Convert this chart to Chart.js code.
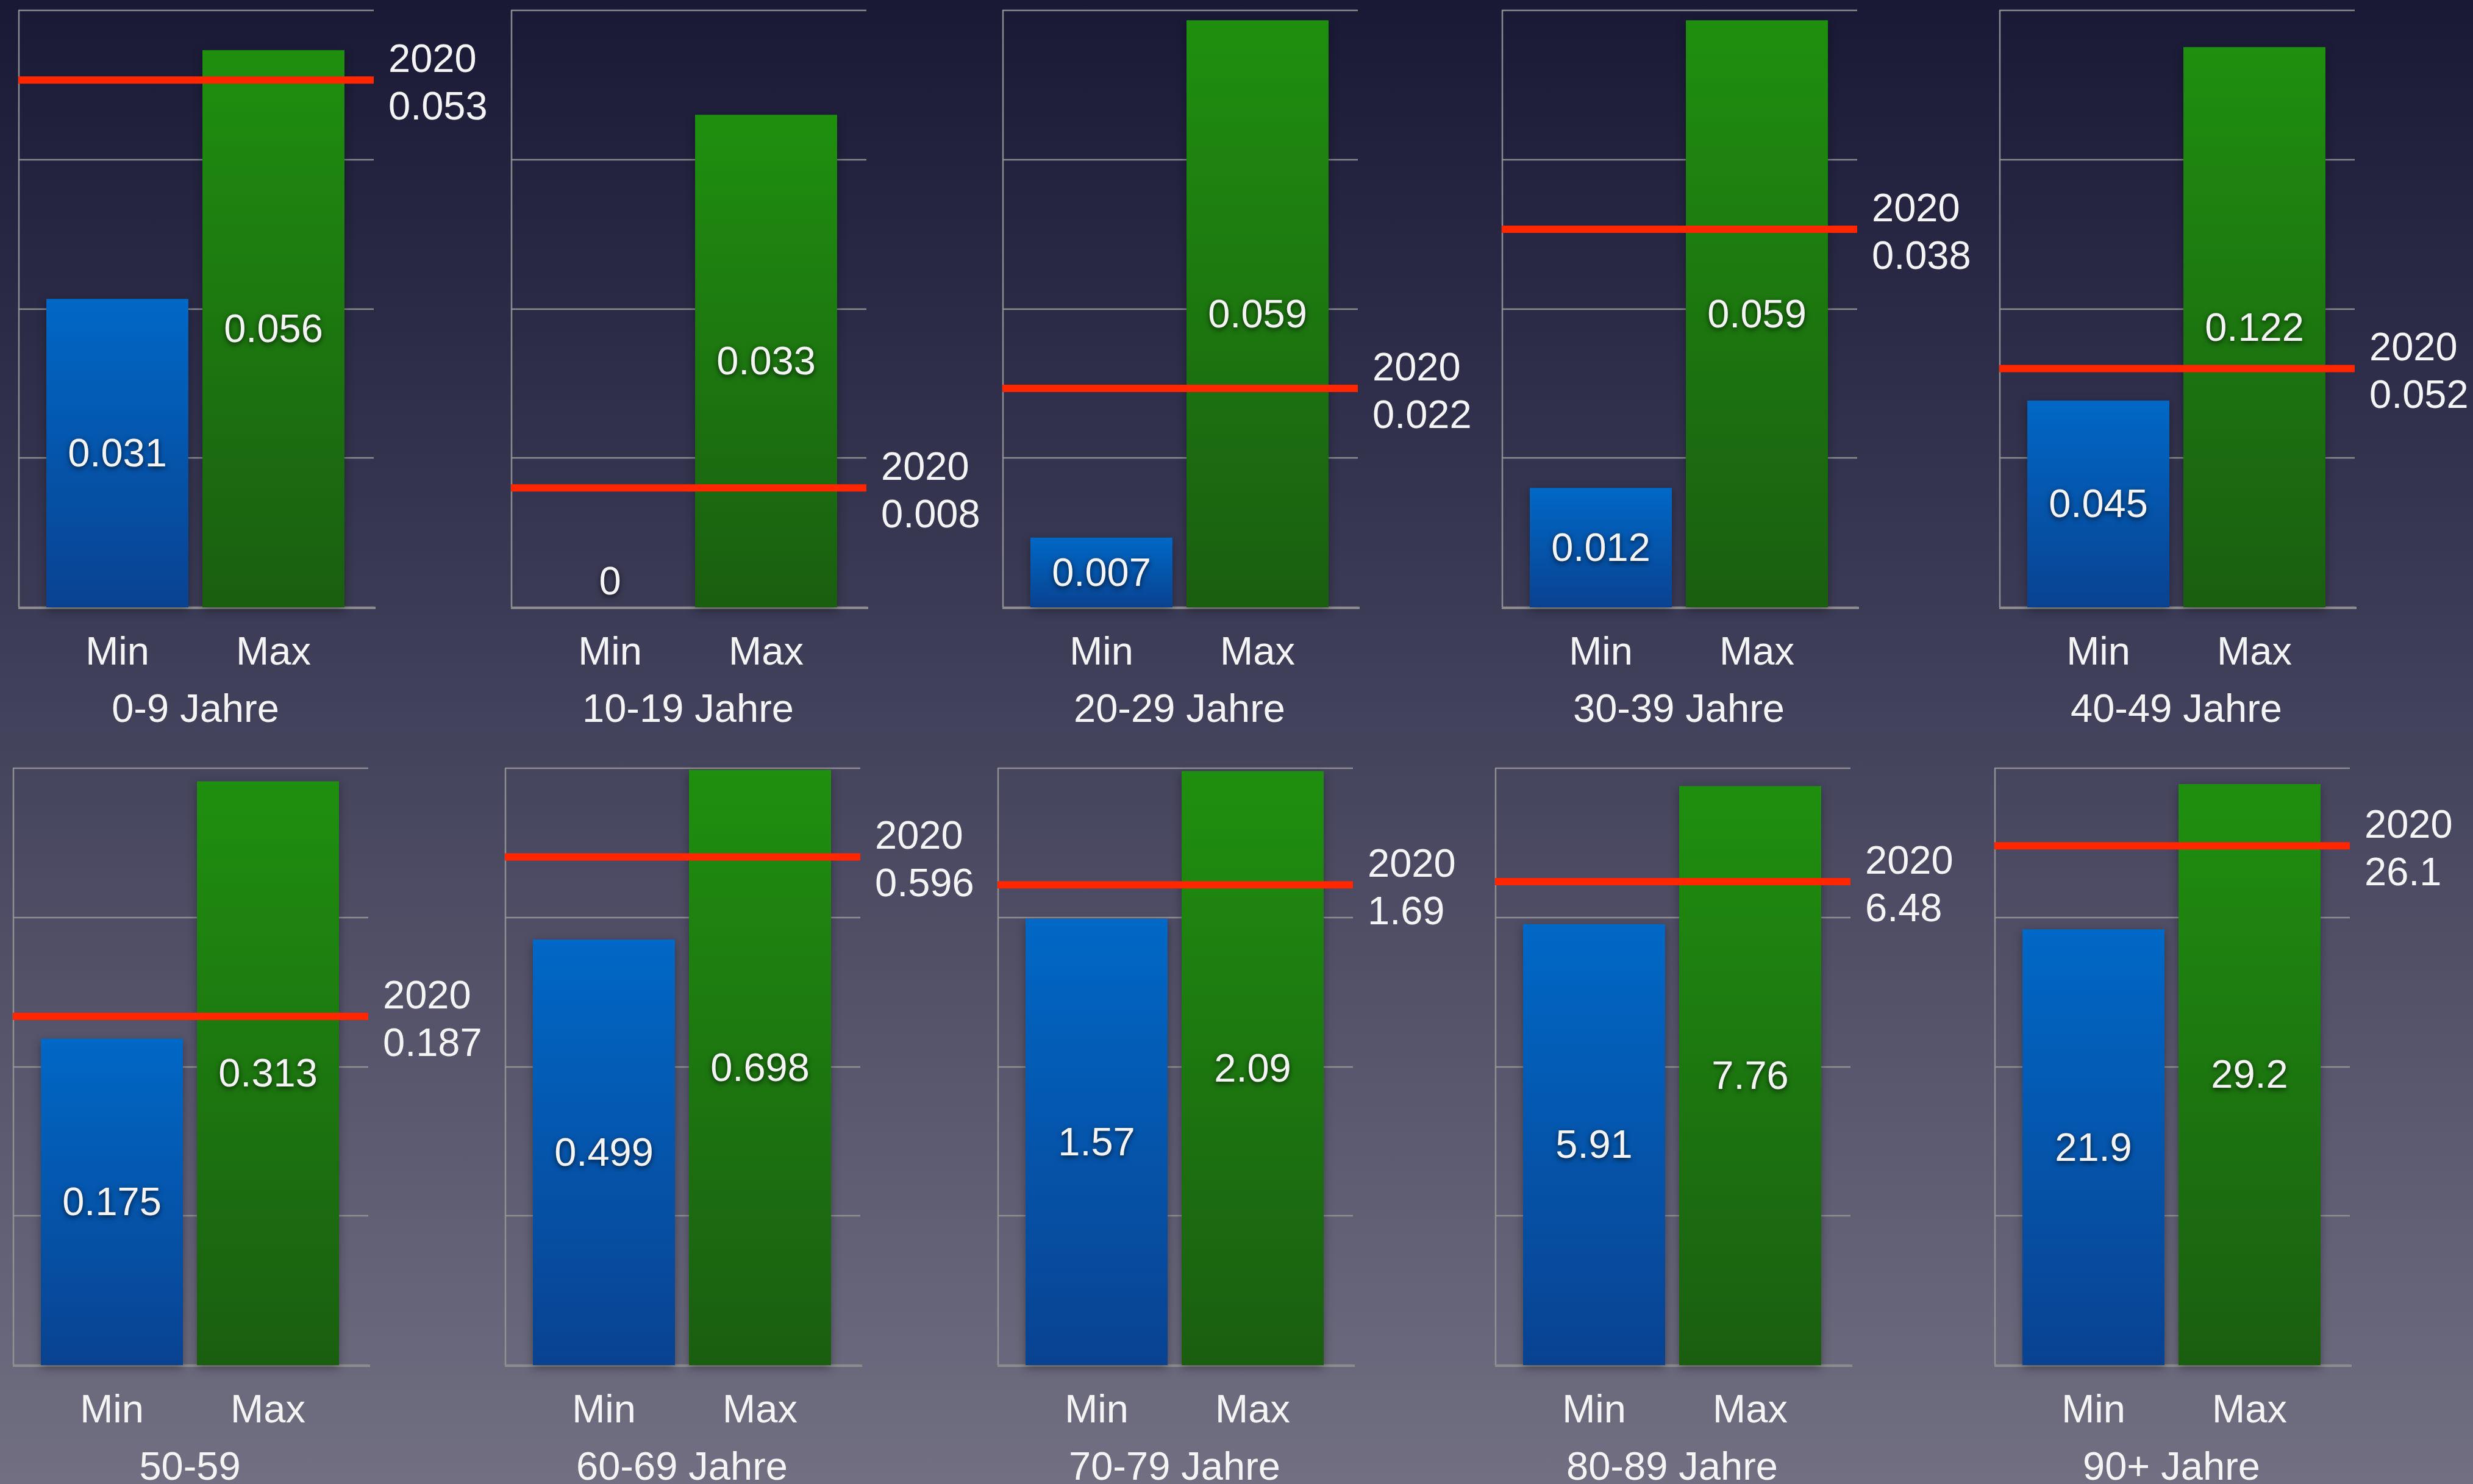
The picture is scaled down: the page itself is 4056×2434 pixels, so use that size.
<!DOCTYPE html>
<html>
<head>
<meta charset="utf-8">
<script src="https://cdn.jsdelivr.net/npm/chart.js@4/dist/chart.umd.min.js"></script>
<style>
  html, body { margin: 0; padding: 0; }
  body {
    width: 4056px; height: 2434px; overflow: hidden; position: relative;
    background: linear-gradient(to bottom, #191936 0%, #3c3b56 41%, #716f81 100%);
  }
  canvas { position: absolute; }
</style>
</head>
<body>
<script>
// Data
const groups = ['0-9 Jahre', '10-19 Jahre', '20-29 Jahre', '30-39 Jahre', '40-49 Jahre',
                '50-59', '60-69 Jahre', '70-79 Jahre', '80-89 Jahre', '90+ Jahre'];
const barLabels = ['Min', 'Max'];
const minValues = [0.031, 0, 0.007, 0.012, 0.045, 0.175, 0.499, 1.57, 5.91, 21.9];
const maxValues = [0.056, 0.033, 0.059, 0.059, 0.122, 0.313, 0.698, 2.09, 7.76, 29.2];
const refLabel = '2020';
const refValues = [0.053, 0.008, 0.022, 0.038, 0.052, 0.187, 0.596, 1.69, 6.48, 26.1];
const axisMax = [0.06, 0.04, 0.06, 0.06, 0.13, 0.32, 0.7, 2.1, 8, 30];

// layout of the panels (left edge of each y axis line)
const panelLeft = [30, 838, 1644, 2463, 3279, 21, 828, 1636, 2452, 3271];
const rowTop = [0, 1243];
const W = 820, H = 1240;
const FONT = "'Liberation Sans', Helvetica, Arial, sans-serif";
const TXT = '#f4f4f4';

const frameLeftOff = 34.5;   // axis line left of the chart area
const frameRightOff = 36.5;  // grid lines past the chart area

function barGradient(c, top, bottom) {
  const chart = c.chart;
  if (!chart.chartArea || c.type !== 'data') return c.dataIndex === 1 ? '#1d7a0f' : '#0658ad';
  const y = chart.scales.y;
  const y0 = y.getPixelForValue(c.raw);
  const y1 = y.getPixelForValue(0);
  if (y1 - y0 < 1) return bottom;
  const g = chart.ctx.createLinearGradient(0, y0, 0, y1);
  g.addColorStop(0, top);
  g.addColorStop(1, bottom);
  return g;
}

const panelPlugin = {
  id: 'panel',
  beforeDatasetsDraw(chart) {
    const ctx = chart.ctx;
    const ca = chart.chartArea;
    const y = chart.scales.y;
    const l = ca.left - frameLeftOff, r = ca.right + frameRightOff;
    ctx.save();
    ctx.strokeStyle = 'rgba(150,150,150,0.9)';
    ctx.lineWidth = 2.5;
    y.ticks.forEach(t => {
      const py = Math.round(y.getPixelForValue(t.value));
      ctx.beginPath();
      ctx.moveTo(l, py);
      ctx.lineTo(r, py);
      ctx.stroke();
    });
    ctx.beginPath();
    ctx.moveTo(l + 1, y.getPixelForValue(y.max));
    ctx.lineTo(l + 1, y.getPixelForValue(0));
    ctx.stroke();
    ctx.strokeStyle = 'rgba(140,140,140,1)';
    ctx.lineWidth = 4;
    ctx.beginPath();
    ctx.moveTo(l, y.getPixelForValue(0) + 1);
    ctx.lineTo(r + 3, y.getPixelForValue(0) + 1);
    ctx.stroke();
    ctx.restore();
    ctx.save();
    ctx.shadowColor = 'rgba(0,0,0,0.35)';
    ctx.shadowBlur = 14;
    ctx.shadowOffsetY = 5;
  },
  afterDatasetsDraw(chart, args, opts) {
    const ctx = chart.ctx;
    ctx.restore();
    const ca = chart.chartArea;
    const y = chart.scales.y;
    const l = ca.left - frameLeftOff, r = ca.right + frameRightOff;
    const ry = y.getPixelForValue(opts.ref);

    ctx.save();
    ctx.strokeStyle = '#ff2600';
    ctx.lineWidth = 12;
    ctx.beginPath();
    ctx.moveTo(l, ry);
    ctx.lineTo(r, ry);
    ctx.stroke();

    ctx.fillStyle = TXT;
    ctx.font = '65px ' + FONT;
    ctx.textAlign = 'left';
    ctx.textBaseline = 'alphabetic';
    ctx.fillText(refLabel, r + 24, ry - 13);
    ctx.fillText(String(opts.ref), r + 24, ry + 65);

    // value labels inside the bars
    ctx.shadowColor = 'rgba(0,0,0,0.7)';
    ctx.shadowBlur = 8;
    ctx.shadowOffsetY = 3;
    ctx.textAlign = 'center';
    const meta = chart.getDatasetMeta(0);
    meta.data.forEach((bar, i) => {
      const v = chart.data.datasets[0].data[i];
      const h = bar.base - bar.y;
      if (h < 60) {
        ctx.textBaseline = 'alphabetic';
        ctx.fillText(String(v), bar.x, bar.y - 21);
      } else {
        ctx.textBaseline = 'middle';
        ctx.fillText(String(v), bar.x, (bar.y + bar.base) / 2 + 4);
      }
    });
    ctx.restore();
  }
};

groups.forEach((g, i) => {
  const cv = document.createElement('canvas');
  cv.width = W;
  cv.height = H;
  cv.style.left = (panelLeft[i] - 10) + 'px';
  cv.style.top = rowTop[i < 5 ? 0 : 1] + 'px';
  document.body.appendChild(cv);

  new Chart(cv, {
    type: 'bar',
    data: {
      labels: barLabels,
      datasets: [{
        data: [minValues[i], maxValues[i]],
        backgroundColor: c => c.dataIndex === 1
          ? barGradient(c, '#1f8f0f', '#1a5e10')
          : barGradient(c, '#0068c6', '#094291'),
        borderWidth: 0,
        barPercentage: 0.91,
        categoryPercentage: 1,
        clip: false
      }]
    },
    options: {
      responsive: false,
      animation: false,
      devicePixelRatio: 1,
      layout: { padding: { left: 10 + frameLeftOff, right: W - 10 - 546.5, top: 17, bottom: 35 } },
      plugins: {
        legend: { display: false },
        tooltip: { enabled: false },
        panel: { ref: refValues[i] }
      },
      scales: {
        x: {
          afterFit: s => { s.height = 209; },
          grid: { display: false, drawTicks: false },
          border: { display: false },
          ticks: { color: TXT, padding: 37, font: { family: FONT, size: 65, lineHeight: 1.2 } },
          title: {
            display: true, text: g, color: TXT,
            padding: { top: 0, bottom: 0 },
            font: { family: FONT, size: 65, lineHeight: 1.2 }
          }
        },
        y: { display: false, min: 0, max: axisMax[i], ticks: { count: 5 } }
      }
    },
    plugins: [panelPlugin]
  });
});
</script>
</body>
</html>
